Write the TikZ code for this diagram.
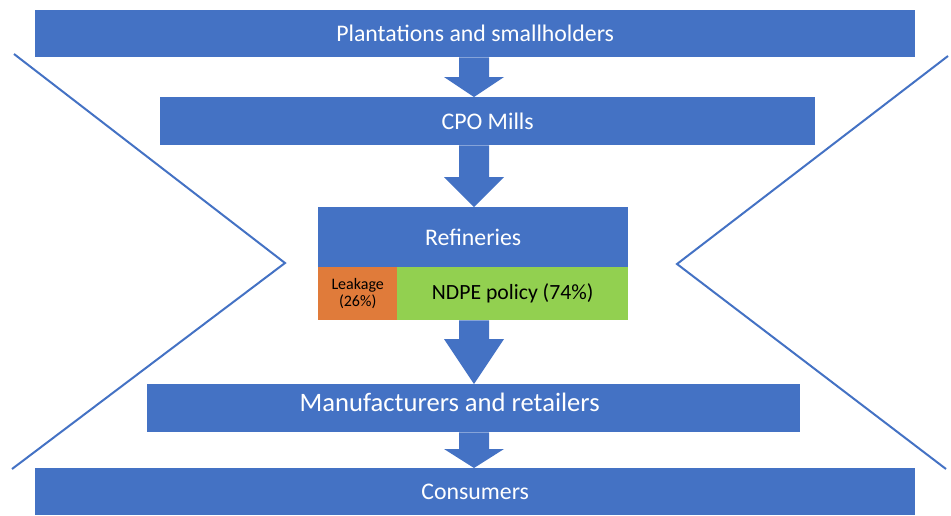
\documentclass[tikz,border=0pt]{standalone}
\usepackage{fontspec}
\setmainfont{Carlito}
\usetikzlibrary{calc}
\definecolor{obl}{HTML}{4472C4}
\definecolor{oor}{HTML}{E07B3A}
\definecolor{ogr}{HTML}{92D050}
\tikzset{
  box/.style={fill=obl, text=white, inner sep=0pt, anchor=north west, align=center},
  arr/.style={fill=obl},
  vline/.style={draw=obl, line width=2pt, line join=miter},
}
\newcommand\flowarrow[3]{%
  \fill[arr] ($(ax |- #1.south)+(-15,0)$) -- ($(ax |- #2.north)+(-15,-#3)$)
    -- ($(ax |- #2.north)+(-30,-#3)$) -- (ax |- #2.north)
    -- ($(ax |- #2.north)+(30,-#3)$) -- ($(ax |- #2.north)+(15,-#3)$)
    -- ($(ax |- #1.south)+(15,0)$) -- cycle;}
\begin{document}
\begin{tikzpicture}[x=1pt,y=-1pt]
\useasboundingbox (0,0) rectangle (951,515);
\coordinate (ax) at (474,0);
% side lines
\draw[vline] (14,54) -- (285,263) -- (12,469);
\draw[vline] (948,56) -- (677,264) -- (946,469);
% boxes
\node[box, minimum width=880pt, minimum height=47pt, font=\fontsize{23.8}{28}\selectfont] (plant) at (35,10) {Plantations and smallholders};
\node[box, minimum width=655pt, minimum height=48pt, font=\fontsize{23.8}{28}\selectfont] (cpo) at (160,97) {CPO Mills};
\node[box, minimum width=310pt, minimum height=60pt, font=\fontsize{23.8}{28}\selectfont] (ref) at (318,207) {Refineries};
\node[box, fill=oor, text=black, minimum width=79pt, minimum height=53pt, font=\fontsize{16}{17.5}\selectfont] (leak) at (318,267) {Leakage\\(26\%)};
\node[box, fill=ogr, text=black, minimum width=231pt, minimum height=53pt, font=\fontsize{21.7}{26}\selectfont] (ndpe) at (397,267) {NDPE policy (74\%)};
\node[box, minimum width=653pt, minimum height=48pt, font=\fontsize{26.6}{30}\selectfont] (manu) at (147,384) {\raisebox{11pt}{Manufacturers and retailers}\hspace*{48pt}};
\node[box, minimum width=880pt, minimum height=47pt, font=\fontsize{23.8}{28}\selectfont] (cons) at (35,468) {Consumers};
% arrows
\flowarrow{plant}{cpo}{20}
\flowarrow{cpo}{ref}{30}
\flowarrow{ndpe}{manu}{45}
\flowarrow{manu}{cons}{19}
\end{tikzpicture}
\end{document}
